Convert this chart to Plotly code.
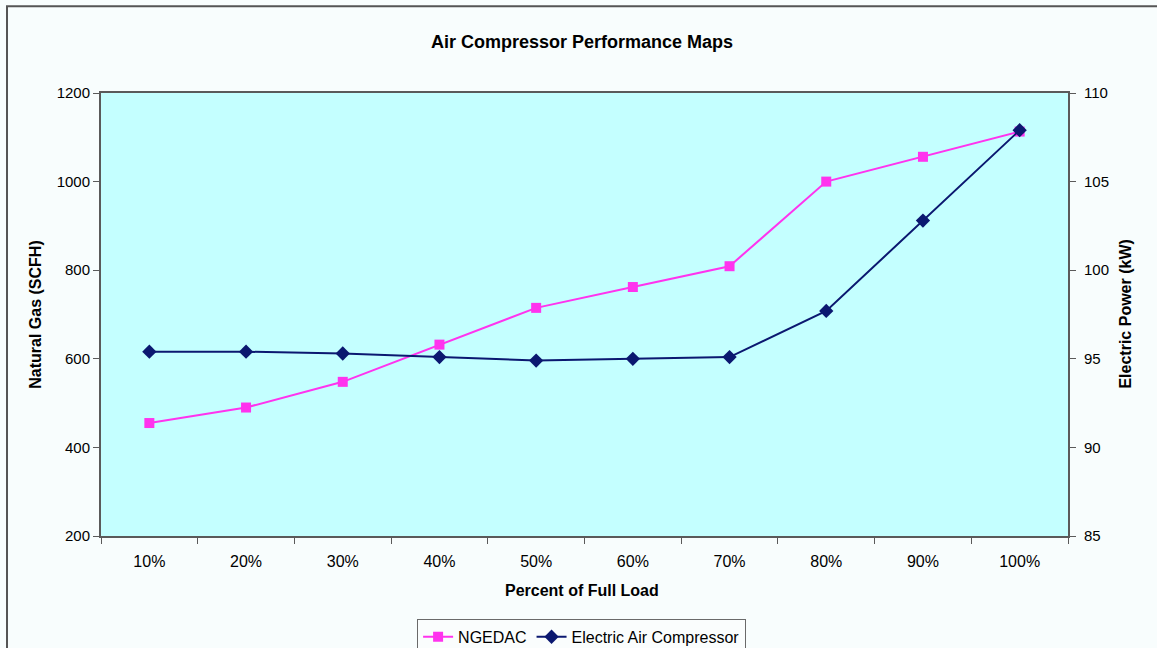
import plotly.graph_objects as go

# Load levels and performance readings
load_pct = ["10%", "20%", "30%", "40%", "50%", "60%", "70%", "80%", "90%", "100%"]
ngedac_scfh = [455, 490, 548, 632, 715, 762, 809, 1000, 1056, 1113]
electric_kw = [95.4, 95.4, 95.3, 95.1, 94.9, 95.0, 95.1, 97.7, 102.8, 107.9]

FONT = "Liberation Sans, Arial, sans-serif"
AXIS_GRAY = "#5a5a5a"

fig = go.Figure()

fig.add_trace(go.Scatter(
    x=load_pct, y=ngedac_scfh, name="NGEDAC", mode="lines+markers",
    line=dict(color="#ff33ee", width=2),
    marker=dict(symbol="square", size=10, color="#ff33ee"),
    yaxis="y",
))
fig.add_trace(go.Scatter(
    x=load_pct, y=electric_kw, name="Electric Air Compressor", mode="lines+markers",
    line=dict(color="#0b1870", width=2),
    marker=dict(symbol="diamond", size=11, color="#0b1870"),
    yaxis="y2",
))

fig.update_layout(
    width=1157, height=648,
    margin=dict(l=101, r=89, t=93, b=112, autoexpand=False),
    paper_bgcolor="#f8fdfd",
    plot_bgcolor="#c4ffff",
    font=dict(family=FONT, size=15, color="#000000"),
    showlegend=True,
    legend=dict(
        orientation="h", x=0.497, xanchor="center", y=-0.187, yanchor="top",
        bgcolor="#fafdfd", bordercolor="#6a6a6a", borderwidth=1,
        font=dict(size=16), itemwidth=30,
    ),
    xaxis=dict(
        type="category", range=[-0.5, 9.5],
        tickson="boundaries", ticks="outside", ticklen=6, tickcolor=AXIS_GRAY,
        showline=True, linecolor=AXIS_GRAY, linewidth=2, mirror=True,
        showgrid=False, zeroline=False, ticklabelstandoff=10,
        tickfont=dict(size=16),
    ),
    yaxis=dict(
        range=[200, 1200], dtick=200, ticks="outside", ticklen=6, tickcolor=AXIS_GRAY,
        showline=True, linecolor=AXIS_GRAY, linewidth=2, mirror=True,
        showgrid=False, zeroline=False, tickfont=dict(size=15),
    ),
    yaxis2=dict(
        range=[85, 110], dtick=5, overlaying="y", side="right",
        ticks="outside", ticklen=6, tickcolor=AXIS_GRAY,
        showline=True, linecolor=AXIS_GRAY, linewidth=2, ticklabelstandoff=5,
        showgrid=False, zeroline=False, tickfont=dict(size=15),
    ),
    annotations=[
        dict(text="<b>Air Compressor Performance Maps</b>", xref="paper", yref="paper",
             x=0.497, y=1.115, xanchor="center", yanchor="middle", showarrow=False,
             font=dict(size=18)),
        dict(text="<b>Natural Gas (SCFH)</b>", xref="paper", yref="paper",
             x=-0.068, y=0.5, xanchor="center", yanchor="middle", textangle=-90,
             showarrow=False, font=dict(size=16)),
        dict(text="<b>Electric Power (kW)</b>", xref="paper", yref="paper",
             x=1.059, y=0.5, xanchor="center", yanchor="middle", textangle=-90,
             showarrow=False, font=dict(size=16)),
        dict(text="<b>Percent of Full Load</b>", xref="paper", yref="paper",
             x=0.497, y=-0.124, xanchor="center", yanchor="middle",
             showarrow=False, font=dict(size=16)),
    ],
    shapes=[
        # outer chart frame
        dict(type="rect", xref="paper", yref="paper",
             x0=-0.0972, x1=1.10, y0=-0.27, y1=1.196,
             line=dict(color="#555555", width=2), layer="below"),
    ],
)

fig.write_html("out.html")
